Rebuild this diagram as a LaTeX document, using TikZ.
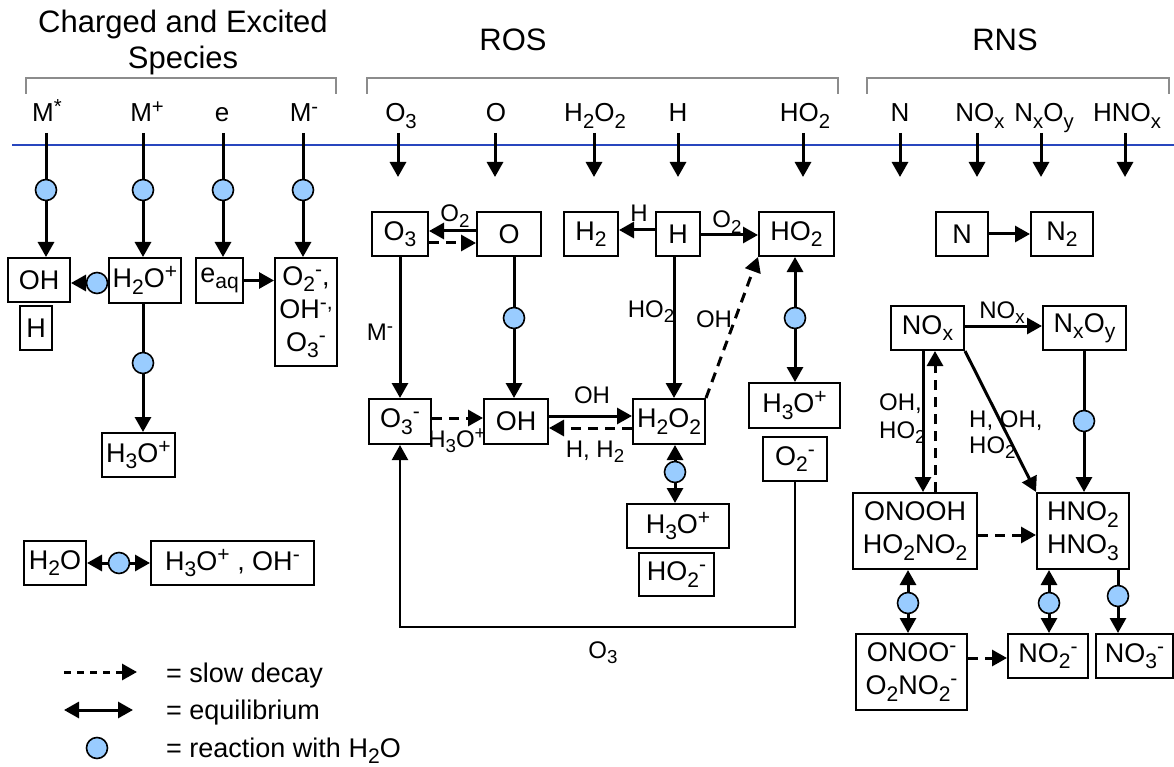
\documentclass[tikz,border=0pt]{standalone}
\usepackage{fontspec}
\setmainfont{Liberation Sans}
\usetikzlibrary{arrows.meta}
\newcommand{\sbs}[1]{\raisebox{-0.24em}{\scalebox{0.78}{#1}}}
\newcommand{\sps}[1]{\raisebox{0.33em}{\scalebox{0.78}{#1}}}
\definecolor{lblue}{RGB}{153,204,255}
\definecolor{lineblue}{RGB}{40,70,190}
\definecolor{brgray}{RGB}{140,140,140}
\begin{document}
\begin{tikzpicture}[x=1pt,y=-1pt,
  bx/.style={draw,line width=2pt,inner sep=0pt,align=center,font=\fontsize{27}{33}\selectfont},
  wc/.style={circle,draw,line width=1.6pt,fill=lblue,minimum size=21pt,inner sep=0pt},
  ln/.style={line width=3pt},
  arr/.style={line width=3pt,-{Triangle[length=15pt,width=16pt]}},
  eqa/.style={line width=3pt,{Triangle[length=15pt,width=16pt]}-{Triangle[length=15pt,width=16pt]}},
  dsh/.style={line width=3pt,-{Triangle[length=15pt,width=16pt]},dash pattern=on 10pt off 7pt},
  lb/.style={inner sep=0pt,font=\fontsize{24}{28}\selectfont},
  sp/.style={inner sep=0pt,anchor=base,font=\fontsize{26}{30}\selectfont},
  hd/.style={inner sep=0pt,align=center,font=\fontsize{31}{36}\selectfont},
  lgt/.style={inner sep=0pt,anchor=base west,font=\fontsize{27}{30}\selectfont},
  brk/.style={draw=brgray,line width=1.2pt}]
\useasboundingbox (0,0) rectangle (1174,767);

% headers
\node[hd,anchor=north] (hCh) at (183,10) {Charged and Excited\\Species};
\node[hd,anchor=base] (hROS) at (513,51) {ROS};
\node[hd,anchor=base] (hRNS) at (1005,51) {RNS};
\draw[brk] (26,94) -- (26,78) -- (336,78) -- (336,94);
\draw[brk] (367,94) -- (367,78) -- (838,78) -- (838,94);
\draw[brk] (867,94) -- (867,78) -- (1169,78) -- (1169,94);

% blue line
\coordinate (bl1) at (12,145); \coordinate (bl2) at (1174,145);
\draw[lineblue,line width=2.2pt] (bl1) -- (bl2);

% species labels
\node[sp] (sMs) at (47,122) {M\sps{*}};
\node[sp] (sMp) at (147,122) {M\sps{+}};
\node[sp] (se) at (222,122) {e};
\node[sp] (sMm) at (304,122) {M\sps{-}};
\node[sp] (sO3) at (401,122) {O\sbs{3}};
\node[sp] (sO) at (496,122) {O};
\node[sp] (sH2O2) at (595,122) {H\sbs{2}O\sbs{2}};
\node[sp] (sH) at (678,122) {H};
\node[sp] (sHO2) at (805,122) {HO\sbs{2}};
\node[sp] (sN) at (900,122) {N};
\node[sp] (sNOx) at (980,122) {NO\sbs{x}};
\node[sp] (sNxOy) at (1044,122) {N\sbs{x}O\sbs{y}};
\node[sp] (sHNOx) at (1127,122) {HNO\sbs{x}};

% species arrows (ROS, RNS)
\foreach \n/\x in {O3/398,O/495,HHOO/594,H/678,HO2/803,N/900,NOx/977,NxOy/1041,HNOx/1125}{
  \coordinate (t\n) at (\x,133); \coordinate (b\n) at (\x,177);
  \draw[arr] (t\n) -- (b\n);
}
% charged species tops and circles
\foreach \n/\x in {Ms/46,Mp/143,e/223,Mm/303}{
  \coordinate (t\n) at (\x,133);
  \node[wc] (c\n) at (\x,190) {};
}

% charged boxes
\node[bx,minimum width=62pt,minimum height=44pt] (OHa) at (39,280) {OH};
\node[bx,minimum width=32pt,minimum height=44pt] (Ha) at (36,328) {H};
\node[bx,minimum width=72pt,minimum height=45pt] (H2Opa) at (145,280.5) {H\sbs{2}O\sps{+}};
\node[bx,minimum width=47pt,minimum height=45pt] (eaq) at (219.5,280.5) {e\sbs{aq}};
\node[bx,minimum width=62pt,minimum height=108pt] (O2mix) at (306,312) {O\sbs{2}\sps{-},\\OH\sps{-,}\\O\sbs{3}\sps{-}};
\node[bx,minimum width=73pt,minimum height=44pt] (H3Opa) at (138.5,455) {H\sbs{3}O\sps{+}};
\node[bx,minimum width=62pt,minimum height=44pt] (H2Ob) at (55,563) {H\sbs{2}O};
\node[bx,minimum width=163pt,minimum height=44pt] (H3OpOHm) at (232.5,563) {H\sbs{3}O\sps{+} , OH\sps{-}};

% ROS boxes
\node[bx,minimum width=56pt,minimum height=44pt] (O3b) at (400,234) {O\sbs{3}};
\node[bx,minimum width=64pt,minimum height=44pt] (Ob) at (509,234) {O};
\node[bx,minimum width=54pt,minimum height=44pt] (H2b) at (591,234) {H\sbs{2}};
\node[bx,minimum width=44pt,minimum height=44pt] (Hb) at (678,234) {H};
\node[bx,minimum width=75pt,minimum height=44pt] (HO2b) at (796.5,234) {HO\sbs{2}};
\node[bx,minimum width=62pt,minimum height=45pt] (O3mb) at (400,421.5) {O\sbs{3}\sps{-}};
\node[bx,minimum width=64pt,minimum height=45pt] (OHb) at (516,421.5) {OH};
\node[bx,minimum width=72pt,minimum height=45pt] (H2O2b) at (669,421.5) {H\sbs{2}O\sbs{2}};
\node[bx,minimum width=91pt,minimum height=45pt] (H3Opb) at (794.5,405.5) {H\sbs{3}O\sps{+}};
\node[bx,minimum width=64pt,minimum height=44pt] (O2mb) at (795,459) {O\sbs{2}\sps{-}};
\node[bx,minimum width=102pt,minimum height=44pt] (H3Opc) at (678,526) {H\sbs{3}O\sps{+}};
\node[bx,minimum width=75pt,minimum height=43pt] (HO2mb) at (676.5,574.5) {HO\sbs{2}\sps{-}};

% RNS boxes
\node[bx,minimum width=52pt,minimum height=44pt] (Nb) at (962,234) {N};
\node[bx,minimum width=62pt,minimum height=44pt] (N2b) at (1062,234) {N\sbs{2}};
\node[bx,minimum width=73pt,minimum height=44pt] (NOxb) at (927.5,328) {NO\sbs{x}};
\node[bx,minimum width=83pt,minimum height=44pt] (NxOyb) at (1084.5,328) {N\sbs{x}O\sbs{y}};
\node[bx,minimum width=124pt,minimum height=76pt] (ONOOHb) at (915,531) {ONOOH\\HO\sbs{2}NO\sbs{2}};
\node[bx,minimum width=92pt,minimum height=76pt] (HNOb) at (1083,531) {HNO\sbs{2}\\HNO\sbs{3}};
\node[bx,minimum width=111pt,minimum height=76pt] (ONOOmb) at (911.5,672) {ONOO\sps{-}\\O\sbs{2}NO\sbs{2}\sps{-}};
\node[bx,minimum width=80pt,minimum height=44pt] (NO2mb) at (1048,656) {NO\sbs{2}\sps{-}};
\node[bx,minimum width=77pt,minimum height=44pt] (NO3mb) at (1134.5,656) {NO\sbs{3}\sps{-}};

% water circles
\node[wc] (c21) at (97,283) {};
\node[wc] (c22) at (143,363) {};
\node[wc] (c23) at (119,563) {};
\node[wc] (c31) at (514,318) {};
\node[wc] (c32) at (795,318) {};
\node[wc] (c33) at (675,472) {};
\node[wc] (c41) at (1084,421) {};
\node[wc] (c42) at (908,603) {};
\node[wc] (c43) at (1049,603) {};
\node[wc] (c44) at (1118,596) {};

% charged connectors
\draw[ln] (tMs) -- (cMs); \draw[arr] (cMs) -- (cMs |- OHa.north);
\draw[ln] (tMp) -- (cMp); \draw[arr] (cMp) -- (cMp |- H2Opa.north);
\draw[ln] (te) -- (ce); \draw[arr] (ce) -- (ce |- eaq.north);
\draw[ln] (tMm) -- (cMm); \draw[arr] (cMm) -- (cMm |- O2mix.north);
\draw[ln] (H2Opa.west |- c21) -- (c21);
\draw[arr] (c21) -- (c21 -| OHa.east);
\draw[ln] (H2Opa.south -| c22) -- (c22); \draw[arr] (c22) -- (c22 |- H3Opa.north);
\draw[arr] (eaq.east) -- (eaq.east -| O2mix.west);
\draw[arr] (c23) -- (H2Ob.east |- c23);
\draw[arr] (c23) -- (H3OpOHm.west |- c23);

% ROS connectors
\draw[arr] ([yshift=3pt]Ob.west) -- ([yshift=3pt]O3b.east);
\draw[dsh] ([yshift=-9pt]O3b.east) -- ([yshift=-9pt]Ob.west);
\draw[arr] (O3b) -- (O3mb);
\draw[ln] (Ob.south -| c31) -- (c31); \draw[arr] (c31) -- (c31 |- OHb.north);
\draw[dsh] ([yshift=3.5pt]O3mb.east) -- ([yshift=3.5pt]OHb.west);
\draw[arr] ([yshift=5.5pt]OHb.east) -- ([yshift=5.5pt]H2O2b.west);
\draw[dsh] ([yshift=-6.5pt]H2O2b.west) -- ([yshift=-6.5pt]OHb.east);
\draw[arr] ([yshift=4pt]Hb.west) -- ([yshift=4pt]H2b.east);
\draw[arr] ([yshift=-1pt]Hb.east) -- ([yshift=-1pt]HO2b.west);
\draw[arr] ([xshift=-4pt]Hb.south) -- ([xshift=-4pt]Hb.south |- H2O2b.north);
\draw[dsh] (H2O2b.north east) -- (HO2b.south west);
\draw[arr] (c32) -- (c32 |- HO2b.south); \draw[arr] (c32) -- (c32 |- H3Opb.north);
\coordinate (lp) at (600,627);
\draw[line width=2.2pt,-{Triangle[length=15pt,width=16pt]}] (O2mb.south) |- (lp) -| (O3mb.south);
\draw[arr] (c33) -- (c33 |- H2O2b.south); \draw[arr] (c33) -- (c33 |- H3Opc.north);

% RNS connectors
\draw[arr] (Nb) -- (N2b);
\draw[arr] ([yshift=2pt]NOxb.east) -- ([yshift=2pt]NOxb.east -| NxOyb.west);
\draw[arr] ([xshift=-4.5pt]NOxb.south) -- ([xshift=-4.5pt]NOxb.south |- ONOOHb.north);
\draw[dsh] ([xshift=20pt]ONOOHb.north) -- ([xshift=20pt]ONOOHb.north |- NOxb.south);
\draw[arr] (NOxb.south east) -- (HNOb.north west);
\draw[ln] (NxOyb.south -| c41) -- (c41); \draw[arr] (c41) -- (c41 |- HNOb.north);
\draw[dsh] ([yshift=-4pt]ONOOHb.east) -- ([yshift=-4pt]ONOOHb.east -| HNOb.west);
\draw[arr] (c42) -- (c42 |- ONOOHb.south); \draw[arr] (c42) -- (c42 |- ONOOmb.north);
\draw[dsh] ([yshift=-2pt]NO2mb.west -| ONOOmb.east) -- ([yshift=-2pt]NO2mb.west);
\draw[arr] (c43) -- (c43 |- HNOb.south); \draw[arr] (c43) -- (c43 |- NO2mb.north);
\draw[ln] (HNOb.south -| c44) -- (c44); \draw[arr] (c44) -- (c44 |- NO3mb.north);

% connector labels
\node[lb,anchor=base] (lO2a) at (455,222) {O\sbs{2}};
\node[lb,anchor=base] (lMm) at (380,340) {M\sps{-}};
\node[lb,anchor=base] (lH3O) at (457,447) {H\sbs{3}O\sps{+}};
\node[lb,anchor=base] (lOHa) at (592,403) {OH};
\node[lb,anchor=base] (lHH2) at (595,457) {H, H\sbs{2}};
\node[lb,anchor=base] (lH) at (639,222) {H};
\node[lb,anchor=base] (lO2b) at (727,228) {O\sbs{2}};
\node[lb,anchor=base] (lHO2) at (651,317) {HO\sbs{2}};
\node[lb,anchor=base] (lOHb) at (714,327) {OH};
\node[lb,anchor=base] (lO3) at (603,658) {O\sbs{3}};
\node[lb,anchor=base] (lNOx) at (1002,318) {NO\sbs{x}};
\node[lb,anchor=base west] (lA1) at (879,410) {OH,};
\node[lb,anchor=base west] (lA2) at (879,438) {HO\sbs{2}};
\node[lb,anchor=base west] (lB1) at (969,427) {H, OH,};
\node[lb,anchor=base west] (lB2) at (969,453) {HO\sbs{2}};

% legend
\coordinate (lg1a) at (64,672); \coordinate (lg1b) at (137,672);
\coordinate (lg2a) at (64,710); \coordinate (lg2b) at (133,710);
\draw[dsh,dash pattern=on 7pt off 6pt] (lg1a) -- (lg1b);
\draw[eqa] (lg2a) -- (lg2b);
\node[wc] (cL) at (97,748) {};
\node[lgt] (lt1) at (166,682) {= slow decay};
\node[lgt] (lt2) at (166,719) {= equilibrium};
\node[lgt] (lt3) at (166,757) {= reaction with H\sbs{2}O};
\end{tikzpicture}
\end{document}
